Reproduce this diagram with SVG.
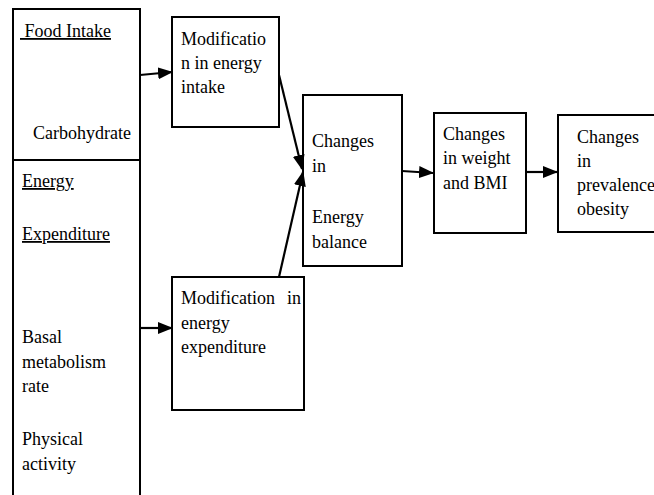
<svg xmlns="http://www.w3.org/2000/svg" width="654" height="495" viewBox="0 0 654 495">
<style>
  .box { fill: #fff; stroke: #000; stroke-width: 2; }
  .t { font-family: 'Liberation Serif', 'Times New Roman', 'DejaVu Serif', serif; font-size: 18px; fill: #000; }
  .u { text-decoration: underline; }
  .conn { stroke: #000; stroke-width: 2.2; fill: none; marker-end: url(#ah); }
</style>
<defs>
  <marker id="ah" markerUnits="userSpaceOnUse" markerWidth="16" markerHeight="13" refX="14" refY="6" orient="auto">
    <path d="M0,0 L15,6 L0,12 z" fill="#000"/>
  </marker>
</defs>
<rect width="654" height="495" fill="#fff"/>
<g id="left-panel" font-family="Liberation Serif, serif">
  <rect class="box" x="13" y="9" width="127" height="500"/>
  <line x1="13" y1="160" x2="140" y2="160" stroke="#000" stroke-width="2"/>
  <text class="t u" x="20" y="37" xml:space="preserve"> Food Intake</text>
  <text class="t" x="33" y="139">Carbohydrate</text>
  <text class="t u" x="22" y="187">Energy</text>
  <text class="t u" x="22" y="240">Expenditure</text>
  <text class="t" x="22" y="343">Basal</text>
  <text class="t" x="22" y="368">metabolism</text>
  <text class="t" x="22" y="392">rate</text>
  <text class="t" x="22" y="445">Physical</text>
  <text class="t" x="22" y="470">activity</text>
</g>
<g id="mod-intake">
  <rect class="box" x="172" y="17" width="107" height="110"/>
  <text class="t" x="181" y="45">Modificatio</text>
  <text class="t" x="181" y="69">n in energy</text>
  <text class="t" x="181" y="93">intake</text>
</g>
<g id="mod-expenditure">
  <rect class="box" x="172" y="277" width="132" height="133"/>
  <text class="t" x="181" y="304">Modification</text>
  <text class="t" x="287" y="304">in</text>
  <text class="t" x="181" y="329">energy</text>
  <text class="t" x="181" y="353">expenditure</text>
</g>
<g id="energy-balance">
  <rect class="box" x="303" y="95" width="99" height="171"/>
  <text class="t" x="312" y="147">Changes</text>
  <text class="t" x="312" y="172">in</text>
  <text class="t" x="312" y="223">Energy</text>
  <text class="t" x="312" y="248">balance</text>
</g>
<g id="weight-bmi">
  <rect class="box" x="434" y="113" width="92" height="120"/>
  <text class="t" x="443" y="140">Changes</text>
  <text class="t" x="443" y="164">in weight</text>
  <text class="t" x="443" y="189">and BMI</text>
</g>
<g id="prevalence">
  <rect class="box" x="558" y="115" width="120" height="117"/>
  <text class="t" x="577" y="143">Changes</text>
  <text class="t" x="577" y="167">in</text>
  <text class="t" x="577" y="191">prevalence</text>
  <text class="t" x="577" y="215">obesity</text>
</g>
<g id="connectors">
  <line class="conn" x1="140" y1="75" x2="172" y2="72"/>
  <line class="conn" x1="140" y1="328" x2="172" y2="328"/>
  <line class="conn" x1="279" y1="75" x2="302" y2="169"/>
  <line class="conn" x1="279" y1="277" x2="303" y2="172"/>
  <line class="conn" x1="402" y1="171" x2="433" y2="173"/>
  <line class="conn" x1="526" y1="172" x2="557" y2="172"/>
</g>
</svg>
